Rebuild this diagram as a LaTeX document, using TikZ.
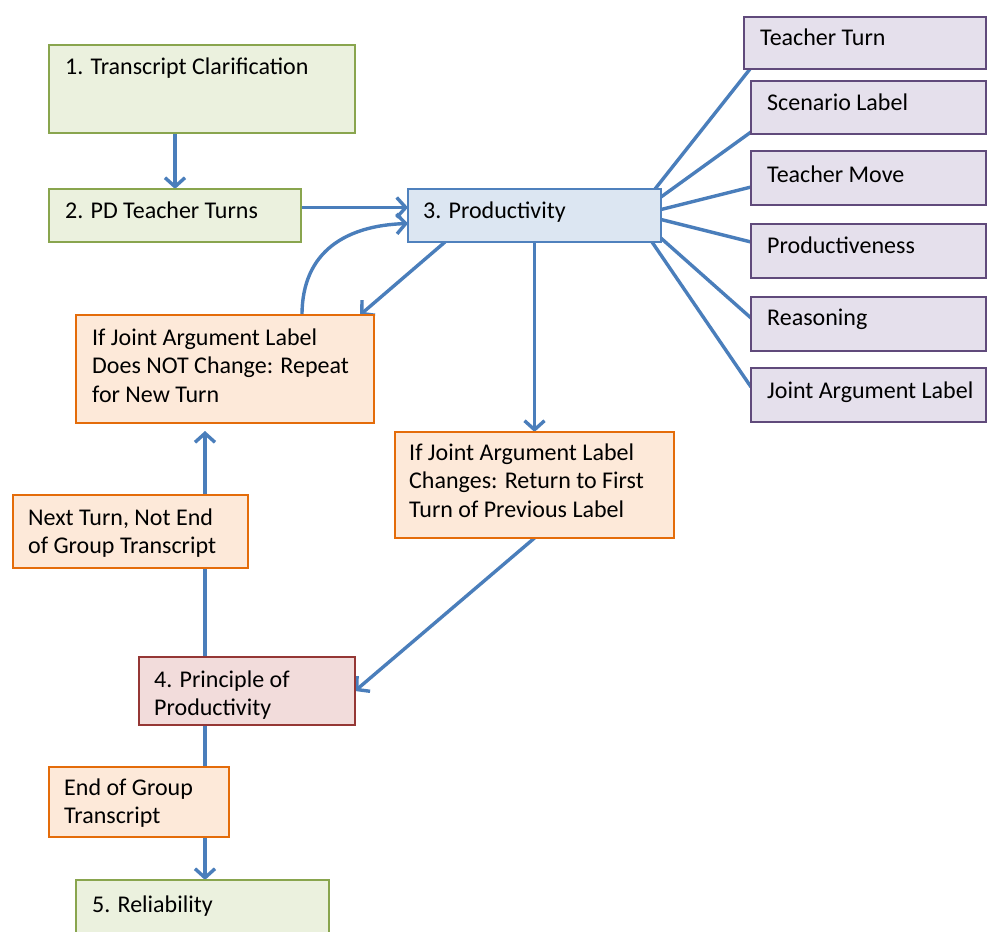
\documentclass[tikz,border=0pt]{standalone}
\usepackage{fontspec}
\setmainfont{Carlito}
\usetikzlibrary{arrows.meta,calc}
\pgfdeclarelayer{background}
\pgfsetlayers{background,main}
\definecolor{arrblue}{HTML}{4A7EBB}
\definecolor{gfill}{HTML}{EBF1DE}
\definecolor{gdraw}{HTML}{89A54E}
\definecolor{bfill}{HTML}{DCE6F2}
\definecolor{bdraw}{HTML}{4F81BD}
\definecolor{pfill}{HTML}{E5E0EC}
\definecolor{pdraw}{HTML}{604A7B}
\definecolor{ofill}{HTML}{FDE9D9}
\definecolor{odraw}{HTML}{E46C0A}
\definecolor{rfill}{HTML}{F2DCDB}
\definecolor{rdraw}{HTML}{953735}
\tikzset{
  box/.style={rectangle, draw, line width=1.6pt, inner sep=0pt, outer sep=0pt, anchor=north west},
  gbox/.style={box, fill=gfill, draw=gdraw},
  bbox/.style={box, fill=bfill, draw=bdraw},
  pbox/.style={box, fill=pfill, draw=pdraw},
  obox/.style={box, fill=ofill, draw=odraw},
  rbox/.style={box, fill=rfill, draw=rdraw},
  txt/.style={anchor=north west, inner sep=0pt, align=left, font=\fontsize{24}{28.5}\selectfont, text=black},
  arr/.style={draw=arrblue, line width=3.4pt, -{Straight Barb[length=9pt,width=20pt]}},
  fan/.style={draw=arrblue, line width=3.4pt},
}
\newcommand{\fl}{\rule{0pt}{18pt}}
\begin{document}
\begin{tikzpicture}[x=1pt,y=-1pt]
\useasboundingbox (0,0) rectangle (987,931);
% boxes
\node[gbox, minimum width=306pt, minimum height=88pt] (b1) at (49,45) {};
\node[gbox, minimum width=252pt, minimum height=53pt] (b2) at (49,189) {};
\node[bbox, minimum width=253pt, minimum height=53pt] (b3) at (408,189) {};
\node[pbox, minimum width=242pt, minimum height=52pt] (tt) at (744,17) {};
\node[pbox, minimum width=235pt, minimum height=53pt] (sl) at (751,81) {};
\node[pbox, minimum width=235pt, minimum height=54pt] (tm) at (751,151) {};
\node[pbox, minimum width=235pt, minimum height=54pt] (pr) at (751,224) {};
\node[pbox, minimum width=235pt, minimum height=54pt] (re) at (751,297) {};
\node[pbox, minimum width=235pt, minimum height=54pt] (ja) at (751,368) {};
\node[obox, minimum width=298pt, minimum height=108pt] (A) at (76,315) {};
\node[obox, minimum width=279pt, minimum height=106pt] (B) at (395,432) {};
\node[obox, minimum width=235pt, minimum height=73pt] (C) at (13,495) {};
\node[rbox, minimum width=216pt, minimum height=68pt] (D) at (139,657) {};
\node[obox, minimum width=180pt, minimum height=70pt] (E) at (49,767) {};
\node[gbox, minimum width=253pt, minimum height=70pt] (F) at (76,880) {};
% texts
\node[txt] (t1) at (65,56) {\fl 1. Transcript Clarification};
\node[txt] (t2) at (65,200) {\fl 2. PD Teacher Turns};
\node[txt] (t3) at (423,200) {\fl 3. Productivity};
\node[txt] (ttt) at (760,27) {\fl Teacher Turn};
\node[txt] (tsl) at (767,92) {\fl Scenario Label};
\node[txt] (ttm) at (767,164) {\fl Teacher Move};
\node[txt] (tpr) at (767,235) {\fl Productiveness};
\node[txt] (tre) at (767,307) {\fl Reasoning};
\node[txt] (tja) at (767,380) {\fl Joint Argument Label};
\node[txt] (tA) at (92,327) {\fl If Joint Argument Label\\Does NOT Change: Repeat\\for New Turn};
\node[txt] (tB) at (409,442) {\fl If Joint Argument Label\\Changes: Return to First\\Turn of Previous Label};
\node[txt] (tC) at (28,507) {\fl Next Turn, Not End\\of Group Transcript};
\node[txt] (tD) at (154,669) {\fl 4. Principle of\\Productivity};
\node[txt] (tE) at (64,777) {\fl End of Group\\Transcript};
\node[txt] (tF) at (92,894) {\fl 5. Reliability};
\coordinate (vx) at (205,0);
\begin{pgfonlayer}{background}
\fill[white] (0,0) rectangle (987,931);
% fan lines
\draw[fan] ($(b3.north east)+(-6,0)$) -- ($(tt.south west)+(6,0)$);
\draw[fan] ($(b3.north east)+(0,8)$) -- ($(sl.south west)+(0,-2)$);
\draw[fan] ($(b3.east)+(0,-6)$) -- ($(tm.west)+(0,9)$);
\draw[fan] ($(b3.east)+(0,4)$) -- ($(pr.west)+(0,-9)$);
\draw[fan] ($(b3.east)+(-3,20)$) -- ($(re.west)+(0,-6)$);
\draw[fan] ($(b3.south east)+(-9,0)$) -- ($(ja.west)+(0,-8)$);
% arrows
\draw[arr] (b2.north |- b1.south) -- (b2.north);
\draw[arr] ($(b2.east)+(0,-8)$) -- ($(b3.west)+(0,-8)$);
\draw[arr] ($(A.north)+(77,0)$) .. controls +(0,-65) and +(-60,2) .. ($(b3.west)+(0,8)$);
\draw[arr] ($(b3.south west)+(37,0)$) -- ($(A.north east)+(-14,0)$);
\draw[arr] (b3.south) -- (B.north);
\draw[arr] (B.south) -- (D.east);
\draw[arr] (D.north -| vx) -- ($(A.south -| vx)+(0,8)$);
\draw[arr] (D.south -| vx) -- (F.north -| vx);
\end{pgfonlayer}
\end{tikzpicture}
\end{document}
